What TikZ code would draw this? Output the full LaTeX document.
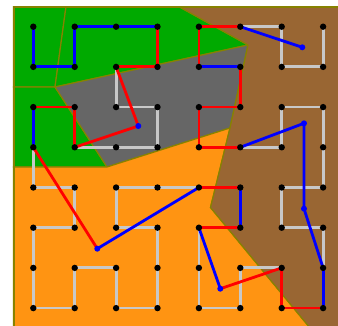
\documentclass[tikz,border=0pt]{standalone}
\usepackage{tikz}
\usetikzlibrary{calc}
\definecolor{cverde}{HTML}{00AA00}
\definecolor{cgris}{HTML}{666666}
\definecolor{cnaranja}{HTML}{FF9412}
\definecolor{cmarron}{HTML}{996633}
\definecolor{cborde}{HTML}{878200}
\definecolor{cclaro}{HTML}{C8C8C8}
\definecolor{crojo}{HTML}{FF0000}
\definecolor{cazul}{HTML}{0000FF}

\begin{document}
\begin{tikzpicture}[x=1pt,y=-1pt,
    zona/.style={draw=cborde,line width=1.2pt},
    gris/.style={cclaro,line width=2.8pt},
    rojo/.style={crojo,line width=2.8pt},
    azul/.style={cazul,line width=2.8pt}]
  \useasboundingbox (0,0) rectangle (338,326);
  \clip (0,0) rectangle (338,326);
  % grid points
  \foreach \i in {0,...,7}
    \foreach \j in {0,...,7}
      \coordinate (p\i\j) at ({33.3+41.4*\i},{26.7+40.2*\j});
  \coordinate (q1) at (138.3,126);
  \coordinate (q2) at (97.3,248.7);
  \coordinate (q3) at (302.3,47.3);
  \coordinate (q4) at (304,123.3);
  \coordinate (q5) at (304,208.7);
  \coordinate (q6) at (220.3,288.7);
  % zone corners
  \coordinate (c1) at (13.5,6.7);
  \coordinate (c2) at (66,6.7);
  \coordinate (c3) at (179,6.7);
  \coordinate (c4) at (350,6.7);
  \coordinate (c5) at (55,87);
  \coordinate (c6) at (13.5,87);
  \coordinate (c7) at (248,45);
  \coordinate (c8) at (230,128);
  \coordinate (c9) at (107,167);
  \coordinate (c10) at (13.5,167);
  \coordinate (c11) at (210.5,207.5);
  \coordinate (c12) at (320,340);
  \coordinate (c13) at (13.5,340);
  \coordinate (c14) at (350,340);
  % zones
  \filldraw[zona,fill=cverde] (c1) -- (c2) -- (c5) -- (c6) -- cycle;
  \filldraw[zona,fill=cverde] (c2) -- (c3) -- (c7) -- (c5) -- cycle;
  \filldraw[zona,fill=cverde] (c6) -- (c5) -- (c9) -- (c10) -- cycle;
  \filldraw[zona,fill=cgris] (c5) -- (c7) -- (c8) -- (c9) -- cycle;
  \filldraw[zona,fill=cnaranja] (c10) -- (c9) -- (c8) -- (c11) -- (c12) -- (c13) -- cycle;
  \filldraw[zona,fill=cmarron] (c3) -- (c4) -- (c14) -- (c12) -- (c11) -- (c8) -- (c7) -- cycle;
  \draw[cborde,line width=2pt] (c1) rectangle (c14);
  % tour edges
  \foreach \a/\b in {21/22,22/32,32/33,33/23,23/13,50/60,60/61,61/71,71/70,
      53/63,63/62,62/72,72/73,73/74,74/64,64/65,65/75,75/76,
      03/04,04/14,14/15,15/05,05/06,06/07,07/17,17/16,16/26,26/27,27/37,
      37/36,36/35,35/25,25/24,24/34,34/44,45/46,46/47,47/57,57/56,56/66}
    \draw[gris] (p\a) -- (p\b);
  \foreach \a/\b in {30/31,31/21,13/12,12/02,40/50,40/41,51/52,52/42,
      42/43,43/53,44/54,55/45,66/67,67/77}
    \draw[rojo] (p\a) -- (p\b);
  \draw[rojo] (p21) -- (q1) -- (p13);
  \draw[rojo] (p03) -- (q2);
  \draw[rojo] (q6) -- (p66);
  \foreach \a/\b in {00/01,01/11,11/10,10/20,20/30,02/03,41/51,54/55,76/77}
    \draw[azul] (p\a) -- (p\b);
  \draw[azul] (p50) -- (q3);
  \draw[azul] (p53) -- (q4) -- (q5) -- (p76);
  \draw[azul] (q2) -- (p44);
  \draw[azul] (p45) -- (q6);
  % dots
  \foreach \i in {0,...,7}
    \foreach \j in {0,...,7}
      \fill (p\i\j) circle (3.2);
  \foreach \q in {q1,q2,q3,q4,q5,q6}
    \fill[cazul] (\q) circle (3);
\end{tikzpicture}
\end{document}
